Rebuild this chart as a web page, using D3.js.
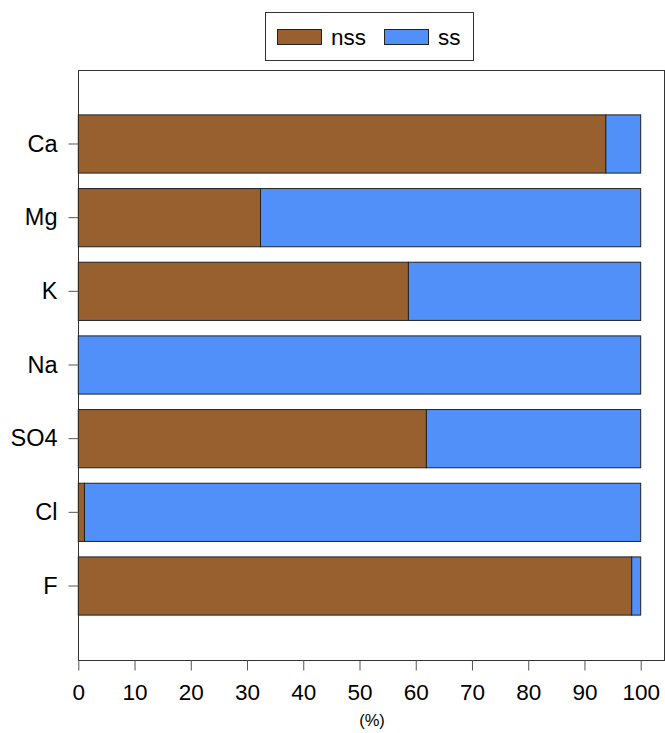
<!DOCTYPE html>
<html><head><meta charset="utf-8">
<script src="https://cdn.jsdelivr.net/npm/d3@7"></script>
<style>body{margin:0;background:#fff;} svg{display:block;font-family:"Liberation Sans",Arial,sans-serif;}</style>
</head><body>
<svg id="c" width="665" height="733"></svg>
<script>
const categories = ["Ca","Mg","K","Na","SO4","Cl","F"];
const nss = [93.8, 32.4, 58.7, 0, 61.9, 1.1, 98.4];
const ss  = [6.2, 67.6, 41.3, 100, 38.1, 98.9, 1.6];
const xTicks = [0,10,20,30,40,50,60,70,80,90,100];
const seriesNames = ["nss","ss"];
const colors = {nss:"#985f2f", ss:"#5090f8"};

const svg = d3.select("#c");
const x = d3.scaleLinear().domain([0,100]).range([78.3,640.7]);
const y = d3.scaleBand().domain(categories).range([107.15,622.85]).paddingInner(0.21).paddingOuter(0.105);

// frame
svg.append("rect").attr("x",78.5).attr("y",70.5).attr("width",586).attr("height",590)
  .attr("fill","none").attr("stroke","#333").attr("stroke-width",1);

const data = categories.map((c,i)=>({cat:c, nss:nss[i], ss:ss[i]}));
const g = svg.append("g");
data.forEach(d=>{
  g.append("rect").attr("x",x(0)).attr("y",y(d.cat)).attr("width",x(d.nss)-x(0)).attr("height",y.bandwidth())
    .attr("fill",colors.nss).attr("stroke","#222").attr("stroke-width",1);
  g.append("rect").attr("x",x(d.nss)).attr("y",y(d.cat)).attr("width",x(d.nss+d.ss)-x(d.nss)).attr("height",y.bandwidth())
    .attr("fill",colors.ss).attr("stroke","#222").attr("stroke-width",1);
});

// x axis
const xa = svg.append("g").attr("transform","translate(0,660.5)")
  .call(d3.axisBottom(x).tickValues(xTicks).tickSize(10).tickPadding(14).tickSizeOuter(0));
xa.select(".domain").remove();
xa.selectAll("line").attr("stroke","#555");
xa.selectAll("text").attr("font-size","22.5px").attr("fill","#000");

// y axis
const ya = svg.append("g").attr("transform","translate(78.5,0)")
  .call(d3.axisLeft(y).tickSize(10).tickPadding(11).tickSizeOuter(0));
ya.select(".domain").remove();
ya.selectAll("line").attr("stroke","#555");
ya.selectAll("text").attr("font-size","23.5px").attr("fill","#000");

svg.append("text").attr("x",372).attr("y",726).attr("text-anchor","middle")
  .attr("font-size","16.5px").text("(%)");

// legend
const lg = svg.append("g");
lg.append("rect").attr("x",265.5).attr("y",12.5).attr("width",208).attr("height",48)
  .attr("fill","#fff").attr("stroke","#333");
const lx = [277, 384];
seriesNames.forEach((s,i)=>{
  lg.append("rect").attr("x",lx[i]+0.5).attr("y",29.5).attr("width",44).attr("height",15)
    .attr("fill",colors[s]).attr("stroke","#222");
  lg.append("text").attr("x",lx[i]+54).attr("y",45).attr("font-size","22.5px").text(s);
});
</script>
</body></html>
